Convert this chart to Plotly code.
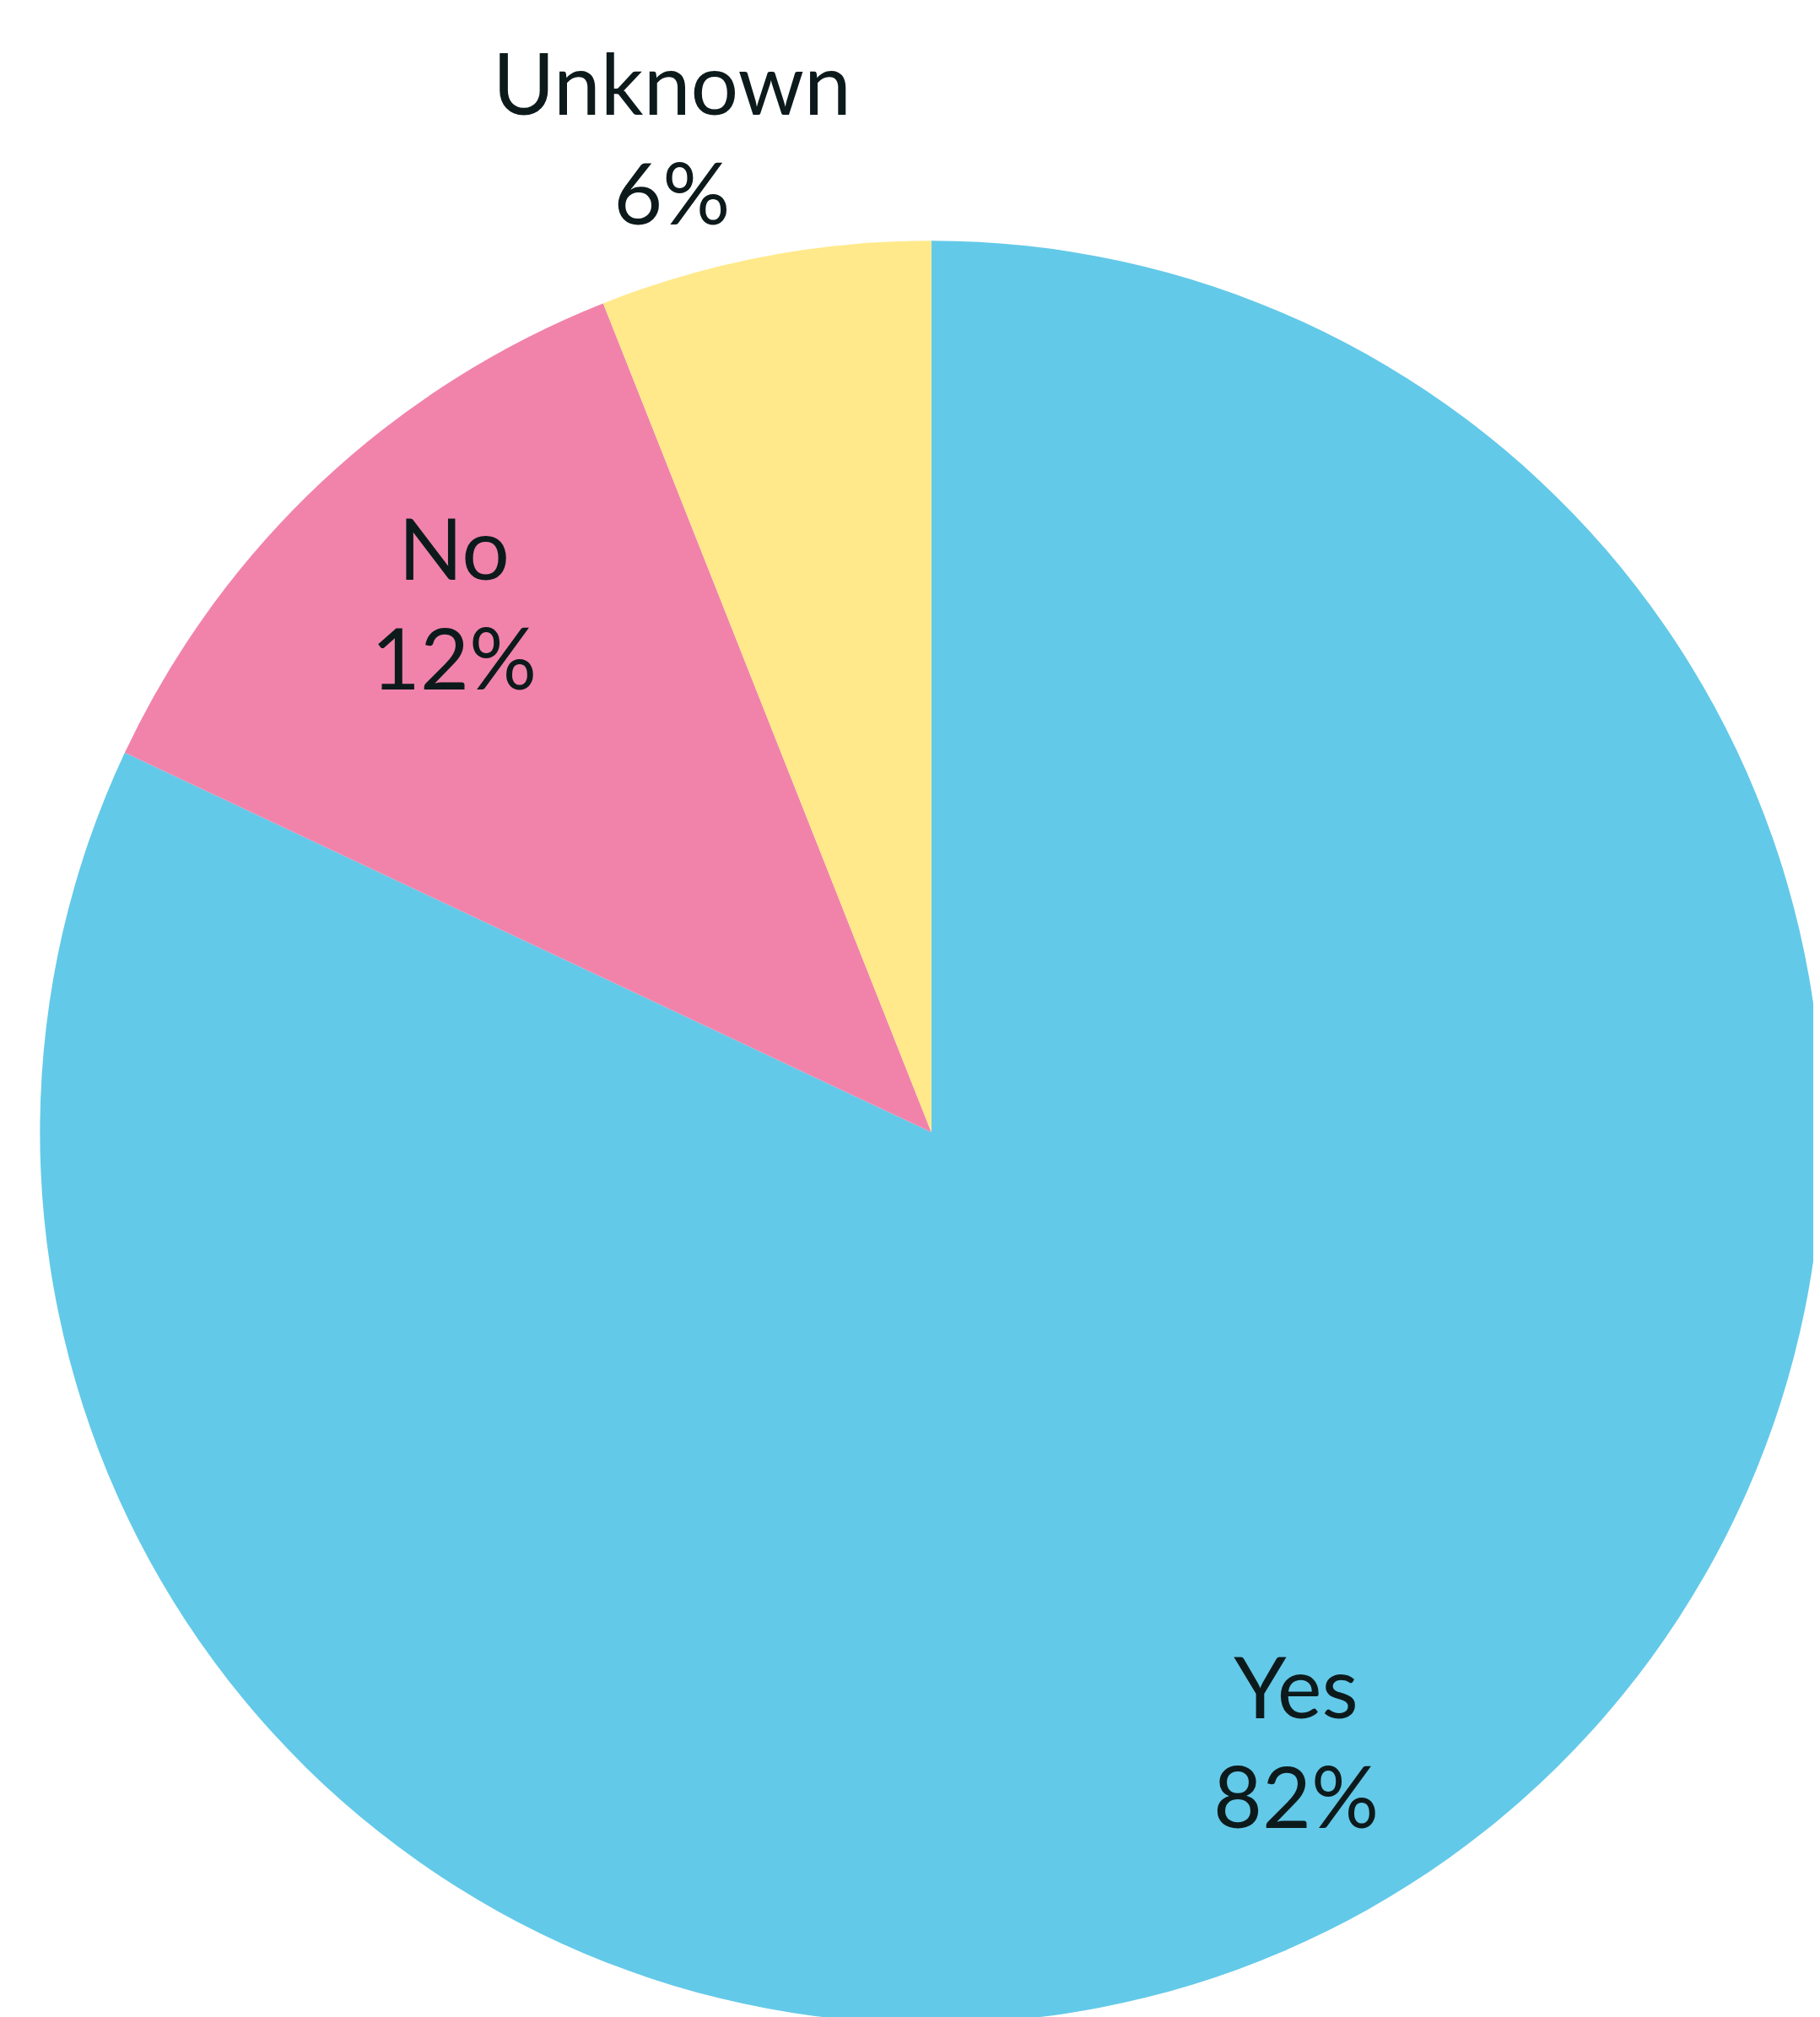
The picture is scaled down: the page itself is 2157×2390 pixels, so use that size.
import plotly.graph_objects as go

categories = ["Yes", "No", "Unknown"]
values = [82, 12, 6]
colors = ["#63C9E8", "#F183AB", "#FFE98A"]

# label positions (paper coords) for the category/percent text
label_x = [1528 / 2157, 530 / 2157, 788 / 2157]
label_y = [1 - 2054 / 2390, 1 - 705 / 2390, 1 - 154 / 2390]

fig = go.Figure()
fig.add_trace(go.Pie(
    labels=categories,
    values=values,
    sort=False,
    direction="clockwise",
    rotation=0,
    marker=dict(colors=colors, line=dict(width=0)),
    textinfo="none",
    hoverinfo="label+percent",
    domain=dict(x=[0.016, 1.0], y=[0.0, 0.884]),
    showlegend=False,
))

total = sum(values)
for cat, v, x, y in zip(categories, values, label_x, label_y):
    fig.add_annotation(
        x=x, y=y, xref="paper", yref="paper",
        text=f"{cat}<br>{round(100 * v / total)}%",
        showarrow=False,
        xanchor="center", yanchor="middle",
        font=dict(family="Lato", size=100, color="#0d1a1c"),
    )

fig.update_layout(
    width=2157, height=2390,
    margin=dict(l=0, r=0, t=0, b=0),
    paper_bgcolor="white",
    plot_bgcolor="white",
)

fig.write_html("out.html")
